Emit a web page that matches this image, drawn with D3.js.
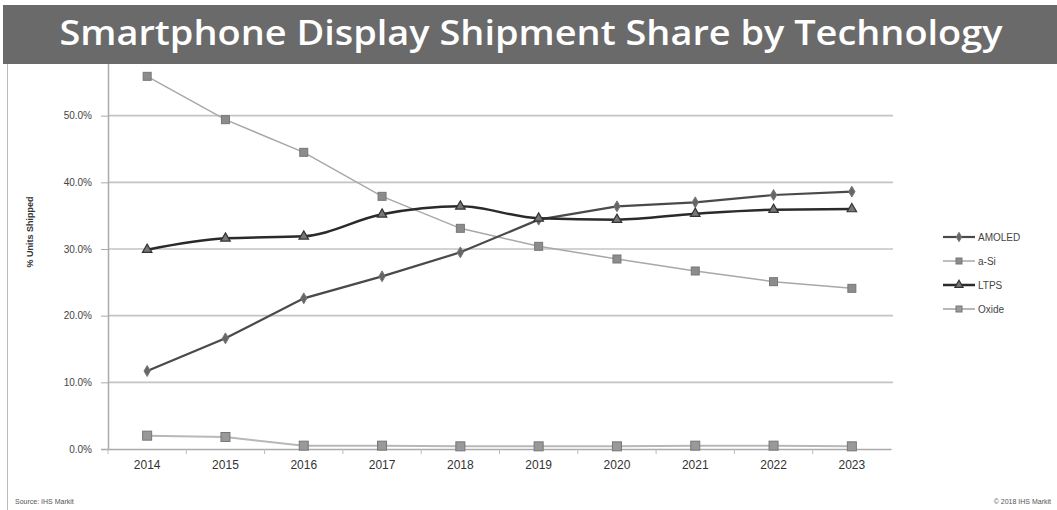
<!DOCTYPE html>
<html><head><meta charset="utf-8">
<script src="https://cdn.jsdelivr.net/npm/d3@7"></script>
<style>body{margin:0;background:#fff}svg{display:block}</style>
</head><body>
<svg id="c" width="1057" height="510"></svg>
<script>
const years = ["2014","2015","2016","2017","2018","2019","2020","2021","2022","2023"];
const amoled = [11.7,16.6,22.6,25.9,29.5,34.4,36.4,37.0,38.1,38.6];
const aSi    = [55.9,49.4,44.5,37.9,33.1,30.4,28.5,26.7,25.1,24.1];
const ltps   = [29.9,31.6,31.9,35.2,36.4,34.6,34.4,35.3,35.9,36.0];
const oxide  = [2.0,1.8,0.5,0.5,0.4,0.4,0.4,0.5,0.5,0.4];
const yTicks = [0,10,20,30,40,50];
const seriesNames = ["AMOLED","a-Si","LTPS","Oxide"];

const svg = d3.select("#c");
const L = 108, R = 891, T = 49, B = 449;
const x = d3.scaleBand().domain(years).range([L, R]);
const y = d3.scaleLinear().domain([0, 60]).range([B, T]);

svg.append("line").attr("x1",7.5).attr("x2",7.5).attr("y1",60).attr("y2",510).attr("stroke","#bbb");

const g = svg.append("g");
g.selectAll("line.grid").data(yTicks.slice(1)).join("line")
  .attr("x1", L).attr("x2", R+2).attr("y1", d=>y(d)).attr("y2", d=>y(d))
  .attr("stroke","#c4c4c4").attr("stroke-width",1.6);

const yAxis = d3.axisLeft(y).tickValues(yTicks).tickSize(7).tickFormat(d=>d.toFixed(1)+"%");
const ya = svg.append("g").attr("transform",`translate(${L},0)`).call(yAxis);
ya.select(".domain").attr("stroke","#aaa").attr("stroke-width",1.5);
ya.selectAll(".tick line").attr("stroke","#aaa");
ya.selectAll("text").attr("font-family","Liberation Sans, Arial, sans-serif").attr("font-size",10).attr("fill","#444").attr("x",-16);

const xAxis = d3.axisBottom(x).tickSize(0).tickPadding(11);
const xa = svg.append("g").attr("transform",`translate(0,${B})`).call(xAxis);
xa.select(".domain").attr("stroke","#aaa").attr("stroke-width",1.5);
xa.selectAll("text").attr("font-family","Liberation Sans, Arial, sans-serif").attr("font-size",12).attr("fill","#333");
svg.append("g").selectAll("line").data(years).join("line")
  .attr("x1",d=>x(d)).attr("x2",d=>x(d)).attr("y1",B).attr("y2",B+5).attr("stroke","#bbb");

svg.append("text").attr("transform","translate(33,232) rotate(-90)").attr("text-anchor","middle")
  .attr("font-family","Liberation Sans, Arial, sans-serif").attr("font-size",9).attr("font-weight","bold").attr("fill","#333")
  .text("% Units Shipped");

const cx = d => x(d) + x.bandwidth()/2;
const series = [
  {name:"AMOLED", vals:amoled, line:"#4a4a4a", w:2.2, marker:"diamond", mfill:"#666", ms:7, curve:d3.curveLinear},
  {name:"a-Si", vals:aSi, line:"#a8a8a8", w:1.5, marker:"square", mfill:"#8c8c8c", ms:8, curve:d3.curveLinear},
  {name:"LTPS", vals:ltps, line:"#2a2a2a", w:2.5, marker:"triangle", mfill:"#777", ms:7, curve:d3.curveMonotoneX},
  {name:"Oxide", vals:oxide, line:"#b8b8b8", w:2, marker:"square", mfill:"#999", ms:9, curve:d3.curveLinear}
];
const order = [series[3], series[1], series[0], series[2]];
order.forEach(s=>{
  const line = d3.line().x((d,i)=>cx(years[i])).y(d=>y(d)).curve(s.curve);
  svg.append("path").datum(s.vals).attr("d",line).attr("fill","none").attr("stroke",s.line).attr("stroke-width",s.w);
});
function marker(sel, type, fill, stroke, size){
  if(type==="square") sel.append("rect").attr("x",-size/2).attr("y",-size/2).attr("width",size).attr("height",size).attr("fill",fill).attr("stroke",stroke).attr("stroke-width",1);
  else if(type==="diamond") sel.append("path").attr("d",d3.symbol(d3.symbolDiamond,size*size*0.7)()).attr("fill",fill).attr("stroke",stroke);
  else sel.append("path").attr("d",d3.symbol(d3.symbolTriangle,size*size*0.8)()).attr("fill",fill).attr("stroke",stroke).attr("stroke-width",1.2);
}
order.forEach(s=>{
  s.vals.forEach((v,i)=>{
    const m = svg.append("g").attr("transform",`translate(${cx(years[i])},${y(v)})`);
    marker(m, s.marker, s.mfill, s.name==="LTPS"?"#333":"#777", s.ms);
  });
});

const lg = svg.append("g");
series.forEach((s,i)=>{
  const yy = 237 + i*24;
  lg.append("line").attr("x1",943).attr("x2",975).attr("y1",yy).attr("y2",yy).attr("stroke",s.line).attr("stroke-width",s.w);
  const m = lg.append("g").attr("transform",`translate(959,${yy})`);
  marker(m, s.marker, s.mfill, s.name==="LTPS"?"#333":"#777", 6);
  lg.append("text").attr("x",978).attr("y",yy+4).attr("font-family","Liberation Sans, Arial, sans-serif")
    .attr("font-size",10).attr("fill","#444").text(s.name);
});

svg.append("rect").attr("x",3).attr("y",5).attr("width",1054).attr("height",59).attr("fill","#6a6a6a");
svg.append("text").attr("x",531).attr("y",45).attr("text-anchor","middle").attr("fill","#fff")
  .attr("font-family","Open Sans, sans-serif").attr("font-weight",600).attr("font-size",35).attr("textLength",943).attr("lengthAdjust","spacingAndGlyphs")
  .text("Smartphone Display Shipment Share by Technology");

svg.append("text").attr("x",15).attr("y",504).attr("font-family","Liberation Sans, Arial, sans-serif").attr("font-size",7).attr("fill","#555").text("Source: IHS Markit");
svg.append("text").attr("x",1051).attr("y",504).attr("text-anchor","end").attr("font-family","Liberation Sans, Arial, sans-serif").attr("font-size",7).attr("fill","#555").text("© 2018 IHS Markit");
</script>
</body></html>
